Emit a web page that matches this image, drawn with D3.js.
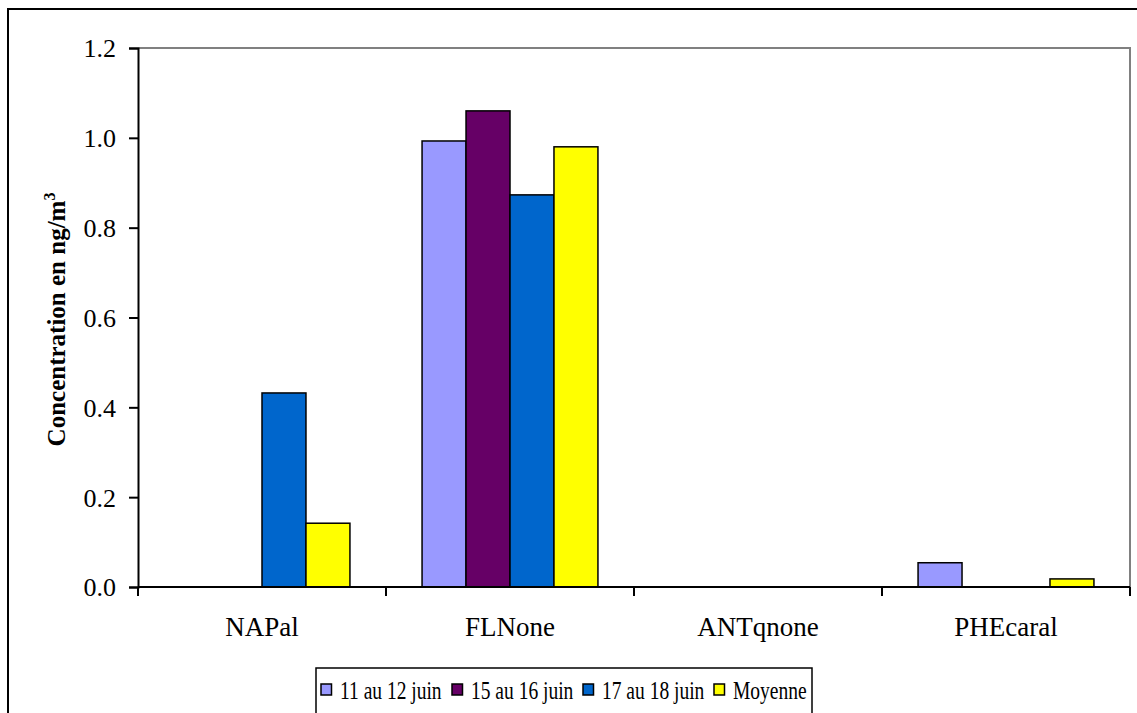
<!DOCTYPE html>
<html>
<head>
<meta charset="utf-8">
<script src="https://cdnjs.cloudflare.com/ajax/libs/d3/7.8.5/d3.min.js"></script>
<style>
  html, body { margin: 0; padding: 0; background: #fff; }
  svg { display: block; }
  text { font-family: "Liberation Serif", "Times New Roman", serif; }
</style>
</head>
<body>
<svg id="chart" width="1137" height="713"></svg>
<script>
// Categories and series values (ng/m3)
const categories = ["NAPal", "FLNone", "ANTqnone", "PHEcaral"];
const seriesNames = ["11 au 12 juin", "15 au 16 juin", "17 au 18 juin", "Moyenne"];
const serie1112 = [0, 0.993, 0, 0.054];
const serie1516 = [0, 1.06, 0, 0];
const serie1718 = [0.432, 0.873, 0, 0];
const moyenne   = [0.142, 0.980, 0, 0.018];
const yTicks = [0, 0.2, 0.4, 0.6, 0.8, 1.0, 1.2];
const colors = ["#9999FF", "#660066", "#0066CC", "#FFFF00"];

const seriesValues = [serie1112, serie1516, serie1718, moyenne];

const svg = d3.select("#chart");

// Outer chart frame
svg.append("rect")
  .attr("x", 8).attr("y", 9)
  .attr("width", 1150).attr("height", 720)
  .attr("fill", "#fff").attr("stroke", "#000").attr("stroke-width", 2);

const plot = { left: 138, top: 48, right: 1130, bottom: 587 };

const x0 = d3.scaleBand()
  .domain(categories)
  .range([plot.left, plot.right])
  .paddingInner(0).paddingOuter(0);

const x1 = d3.scaleBand()
  .domain(d3.range(seriesNames.length))
  .range([0, x0.bandwidth()])
  .paddingOuter(0.82).paddingInner(0);

const y = d3.scaleLinear().domain([0, 1.2]).range([plot.bottom, plot.top]);

// Plot area border: top and right in grey
svg.append("path")
  .attr("d", `M${plot.left},${plot.top}H${plot.right}V${plot.bottom}`)
  .attr("fill", "none").attr("stroke", "#808080").attr("stroke-width", 2);

// Bars
const groups = svg.append("g").selectAll("g")
  .data(categories)
  .join("g")
  .attr("transform", d => `translate(${x0(d)},0)`);

groups.selectAll("rect")
  .data((c, ci) => seriesValues.map((vals, si) => ({ si, v: vals[ci] })).filter(d => d.v > 0))
  .join("rect")
  .attr("x", d => x1(d.si))
  .attr("width", x1.bandwidth())
  .attr("y", d => y(d.v))
  .attr("height", d => y(0) - y(d.v))
  .attr("fill", d => colors[d.si])
  .attr("stroke", "#000").attr("stroke-width", 1.5);

// Y axis
const yAxis = d3.axisLeft(y)
  .tickValues(yTicks)
  .tickFormat(d3.format(".1f"))
  .tickSize(9).tickPadding(13);

const gy = svg.append("g")
  .attr("transform", `translate(${plot.left},0)`)
  .call(yAxis);
gy.select(".domain").attr("stroke", "#000").attr("stroke-width", 2);
gy.selectAll(".tick line").attr("stroke", "#000").attr("stroke-width", 2);
gy.selectAll(".tick text")
  .attr("font-size", 26).attr("fill", "#000")
  .attr("dy", "0.34em");

// X axis: baseline with tick marks at category boundaries
const gx = svg.append("g")
  .attr("transform", `translate(0,${plot.bottom})`);
gx.append("line")
  .attr("x1", plot.left).attr("x2", plot.right)
  .attr("stroke", "#000").attr("stroke-width", 2);
const boundaries = categories.map(c => x0(c)).concat([x0.range()[1]]);
gx.selectAll("line.tk")
  .data(boundaries)
  .join("line").attr("class", "tk")
  .attr("x1", d => d).attr("x2", d => d)
  .attr("y1", 0).attr("y2", 9)
  .attr("stroke", "#000").attr("stroke-width", 2);
gx.selectAll("text")
  .data(categories)
  .join("text")
  .attr("x", d => x0(d) + x0.bandwidth() / 2)
  .attr("y", 49)
  .attr("text-anchor", "middle")
  .attr("font-size", 27)
  .attr("fill", "#000")
  .text(d => d);

// Y axis title
const yTitle = svg.append("text")
  .attr("transform", `translate(65,${(plot.top + plot.bottom) / 2 + 2}) rotate(-90)`)
  .attr("text-anchor", "middle")
  .attr("font-size", 25)
  .attr("font-weight", "bold")
  .attr("fill", "#000");
yTitle.append("tspan").text("Concentration en ng/m");
yTitle.append("tspan").attr("dy", -10).attr("font-size", 16).text("3");

// Legend
const legend = svg.append("g");
legend.append("rect")
  .attr("x", 316).attr("y", 668)
  .attr("width", 496).attr("height", 50)
  .attr("fill", "#fff").attr("stroke", "#000").attr("stroke-width", 1.5);

const legendX = [321, 452, 583, 714];
const items = legend.selectAll("g.item")
  .data(seriesNames)
  .join("g").attr("class", "item")
  .attr("transform", (d, i) => `translate(${legendX[i]},684)`);
items.append("rect")
  .attr("width", 10.5).attr("height", 11)
  .attr("fill", (d, i) => colors[i])
  .attr("stroke", "#000").attr("stroke-width", 1.5);
items.append("text")
  .attr("transform", "translate(19,15) scale(1,1.25)")
  .attr("font-size", 19.5)
  .attr("fill", "#000")
  .text(d => d);
</script>
</body>
</html>
